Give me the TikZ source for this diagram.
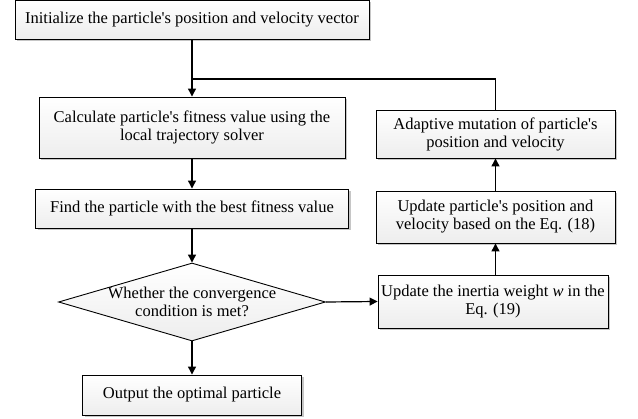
\documentclass[tikz,border=0pt]{standalone}
\usepackage{fontspec}
\setmainfont{Liberation Serif}
\usetikzlibrary{arrows.meta,shapes.geometric,shadows}
\newcommand{\aq}{\textquotesingle}
\begin{document}
\begin{tikzpicture}[x=1pt,y=-1pt,
  box/.style={draw=black,line width=0.9pt,top color=white,bottom color=gray!14,
    drop shadow={shadow xshift=2pt,shadow yshift=-2pt,fill=gray!45,opacity=1},
    inner sep=0pt,align=center,font=\fontsize{16.5}{18}\selectfont},
  dia/.style={draw=black,line width=0.9pt,diamond,top color=white,bottom color=gray!14,inner sep=0pt},
  txt/.style={align=center,font=\fontsize{16.5}{18}\selectfont,inner sep=0pt},
  arr/.style={line width=1.2pt,-{Triangle[length=8pt,width=8pt]}},
  ln/.style={line width=1.2pt}]
\path[use as bounding box] (0,0) rectangle (638,419);
\node[box,minimum width=354pt,minimum height=39pt] (init) at (192,19.5) {Initialize the particle\aq s position and velocity vector};
\node[box,minimum width=306pt,minimum height=61pt] (calc) at (192,127.5) {Calculate particle\aq s fitness value using the\\local trajectory solver};
\node[box,minimum width=313pt,minimum height=39pt] (find) at (192,208.5) {Find the particle with the best fitness value};
\node[dia,minimum width=267pt,minimum height=78pt] (dia) at (192,302) {};
\node[txt] (diat) at (192,302) {Whether the convergence\\condition is met?};
\node[box,minimum width=219pt,minimum height=40pt] (out) at (192,395) {Output the optimal particle};
\node[box,minimum width=230pt,minimum height=53pt] (inert) at (493,301.5) {Update the inertia weight \textit{w} in the\\Eq. (19)};
\node[box,minimum width=239pt,minimum height=52pt] (upd) at (495.5,217) {Update particle\aq s position and\\velocity based on the Eq. (18)};
\node[box,minimum width=239pt,minimum height=48pt] (adapt) at (495.5,134) {Adaptive mutation of particle\aq s\\position and velocity};
\coordinate (j) at (192,79);
\draw[arr] (init.south) -- (calc.north);
\draw[arr] (calc.south) -- (find.north);
\draw[arr] (find.south) -- (dia.north);
\draw[arr] (dia.south) -- (out.north);
\draw[arr] (dia.east) -- (inert.west);
\draw[arr] (inert.north -| adapt.north) -- (upd.south -| adapt.north);
\draw[arr] (upd.north -| adapt.north) -- (adapt.south);
\draw[ln] (adapt.north) |- (j);
\end{tikzpicture}
\end{document}
